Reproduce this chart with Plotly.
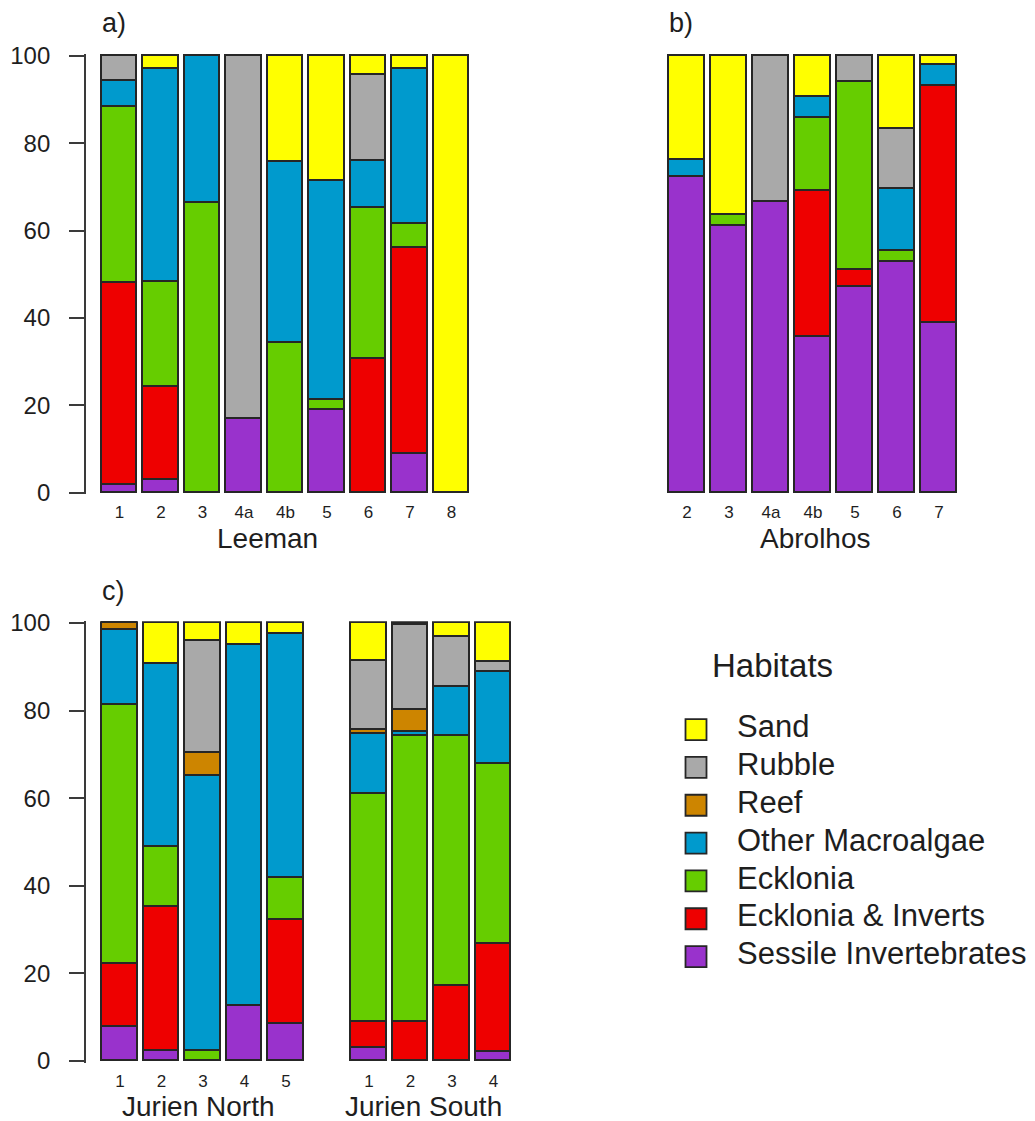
import plotly.graph_objects as go

W, H = 1035, 1121

# ---------------- data ----------------
habitats = ["Sessile Invertebrates", "Ecklonia & Inverts", "Ecklonia",
            "Other Macroalgae", "Reef", "Rubble", "Sand"]
colors = ["#9932CC", "#EE0000", "#66CD00", "#009ACD", "#CD8500", "#A9A9A9", "#FFFF00"]

# a) Leeman
leeman_sites = ["1", "2", "3", "4a", "4b", "5", "6", "7", "8"]
sessile_a = [1.8, 2.9, 0, 16.8, 0, 18.9, 0, 8.8, 0]
eckinv_a = [46.1, 21.4, 0, 0, 0, 0, 30.5, 47.1, 0]
ecklonia_a = [40.4, 24.0, 66.4, 0, 34.3, 2.3, 34.6, 5.7, 0]
macro_a = [5.9, 48.6, 33.6, 0, 41.4, 50.1, 10.8, 35.3, 0]
reef_a = [0, 0, 0, 0, 0, 0, 0, 0, 0]
rubble_a = [5.8, 0, 0, 83.2, 0, 0, 19.7, 0, 0]
sand_a = [0, 3.1, 0, 0, 24.3, 28.7, 4.4, 3.1, 100]

# b) Abrolhos
abrolhos_sites = ["2", "3", "4a", "4b", "5", "6", "7"]
sessile_b = [72.2, 61.1, 66.6, 35.7, 47.1, 52.7, 38.9]
eckinv_b = [0, 0, 0, 33.3, 3.9, 0, 54.2]
ecklonia_b = [0, 2.4, 0, 16.7, 43.1, 2.7, 0]
macro_b = [3.9, 0, 0, 4.9, 0, 14.1, 4.7]
reef_b = [0, 0, 0, 0, 0, 0, 0]
rubble_b = [0, 0, 33.4, 0, 5.9, 13.7, 0]
sand_b = [23.9, 36.5, 0, 9.4, 0, 16.8, 2.2]

# c) Jurien North (5 sites) + Jurien South (4 sites)
jn_sites = ["1", "2", "3", "4", "5"]
js_sites = ["1", "2", "3", "4"]
sessile_c = [7.8, 2.3, 0, 12.4, 8.5, 3.0, 0, 0, 1.9]
eckinv_c = [14.3, 32.7, 0, 0, 23.7, 5.8, 8.8, 17.1, 24.8]
ecklonia_c = [59.1, 13.8, 2.3, 0, 9.5, 52.2, 65.3, 57.0, 41.1]
macro_c = [17.1, 41.8, 62.7, 82.5, 55.8, 13.5, 0.9, 11.2, 21.0]
reef_c = [1.7, 0, 5.3, 0, 0, 1.0, 5.0, 0, 0]
rubble_c = [0, 0, 25.5, 0, 0, 15.7, 19.4, 11.4, 2.3]
sand_c = [0, 9.4, 4.2, 5.1, 2.5, 8.8, 0.6, 3.3, 8.9]

y_ticks = [0, 20, 40, 60, 80, 100]

# ---------------- helpers ----------------
FONT = "Liberation Sans, Arial, sans-serif"
TXT = "#1e1e1e"
LINE = "#262626"


def fx(p):
    return p / W


def fy(p):
    return 1 - p / H


pos_a = list(range(len(leeman_sites)))
pos_b = list(range(len(abrolhos_sites)))
pos_c = list(range(len(jn_sites))) + [len(jn_sites) + 1 + i for i in range(len(js_sites))]
sites_c = jn_sites + js_sites

panels = [
    ("x", "y", pos_a, [sessile_a, eckinv_a, ecklonia_a, macro_a, reef_a, rubble_a, sand_a], 0.85),
    ("x2", "y2", pos_b, [sessile_b, eckinv_b, ecklonia_b, macro_b, reef_b, rubble_b, sand_b], 0.86),
    ("x3", "y3", pos_c, [sessile_c, eckinv_c, ecklonia_c, macro_c, reef_c, rubble_c, sand_c], 0.85),
]

fig = go.Figure()
for xa, ya, pos, series, wd in panels:
    for name, col, vals in zip(habitats, colors, series):
        fig.add_trace(go.Bar(
            x=pos, y=vals, name=name, width=wd, xaxis=xa, yaxis=ya,
            marker=dict(color=col, line=dict(color=LINE, width=1.9)),
            showlegend=False, hoverinfo="skip",
        ))

# legend drawn as a small extra subplot
fig.add_trace(go.Scatter(
    x=[0] * len(habitats), y=habitats, mode="markers", xaxis="x4", yaxis="y4",
    marker=dict(symbol="square", size=21, color=colors, line=dict(color=LINE, width=1.8)),
    showlegend=False, hoverinfo="skip", cliponaxis=False,
))
fig.add_trace(go.Scatter(
    x=[1] * len(habitats), y=habitats, mode="text", text=habitats, xaxis="x4", yaxis="y4",
    textposition="middle right", textfont=dict(family=FONT, size=31, color=TXT),
    showlegend=False, hoverinfo="skip", cliponaxis=False,
))

yax_common = dict(
    range=[-0.4, 100.4], tickvals=y_ticks, ticks="outside", ticklen=15, tickwidth=1.9,
    tickcolor="#3a3a3a", showline=True, linecolor="#3a3a3a", linewidth=1.9, showgrid=False,
    zeroline=False, tickfont=dict(family=FONT, size=24, color=TXT), ticklabelstandoff=14,
    fixedrange=True, automargin=False,
)
xax_common = dict(
    ticks="", showline=False, showgrid=False, zeroline=False,
    tickfont=dict(family=FONT, size=17, color=TXT), ticklabelstandoff=6, fixedrange=True,
    automargin=False,
)

ya_dom = [fy(492.7 + 1.75), fy(55.7 - 1.75)]
yc_dom = [fy(1061 + 1.75), fy(623 - 1.75)]

fig.update_layout(
    template="none",
    width=W, height=H, autosize=False,
    margin=dict(l=0, r=0, t=0, b=0, pad=0),
    paper_bgcolor="white", plot_bgcolor="white",
    barmode="stack", bargap=0,
    font=dict(family=FONT, color=TXT),
    xaxis=dict(domain=[fx(86), fx(475)], range=[(86 - 119.5) / 41.5, (475 - 119.5) / 41.5],
               tickvals=pos_a, ticktext=leeman_sites, anchor="y", **xax_common),
    yaxis=dict(domain=ya_dom, anchor="x", **yax_common),
    xaxis2=dict(domain=[fx(660), fx(965)], range=[(660 - 687) / 42, (965 - 687) / 42],
                tickvals=pos_b, ticktext=abrolhos_sites, anchor="y2", **xax_common),
    yaxis2=dict(domain=ya_dom, anchor="x2", range=[-0.4, 100.4], visible=False,
                fixedrange=True, automargin=False),
    xaxis3=dict(domain=[fx(86), fx(520)], range=[(86 - 120) / 41.5, (520 - 120) / 41.5],
                tickvals=pos_c, ticktext=sites_c, anchor="y3", **xax_common),
    yaxis3=dict(domain=yc_dom, anchor="x3", **yax_common),
    xaxis4=dict(domain=[fx(660), 1.0], range=[(660 - 696) / 41, (1035 - 696) / 41],
                anchor="y4", visible=False, fixedrange=True, automargin=False),
    yaxis4=dict(domain=[fy(975.5), fy(710.7)], anchor="x4", type="category",
                categoryorder="array", categoryarray=habitats, range=[-0.5, 6.5],
                visible=False, fixedrange=True, automargin=False),
)

ann = []


def add_text(text, x, y, size, xanchor="center"):
    ann.append(dict(text=text, x=fx(x), y=fy(y), xref="paper", yref="paper",
                    xanchor=xanchor, yanchor="middle", showarrow=False,
                    font=dict(family=FONT, size=size, color=TXT)))


add_text("a)", 100, 23, 27, "left")
add_text("b)", 667, 23, 27, "left")
add_text("c)", 100, 591, 27, "left")
add_text("Leeman", 267, 538, 28)
add_text("Abrolhos", 815, 538, 28)
add_text("Jurien North", 198.5, 1106, 28)
add_text("Jurien South", 423.5, 1106, 28)
add_text("Habitats", 710, 665, 33, "left")
fig.update_layout(annotations=ann)

fig.write_html("out.html", config={"displayModeBar": False})
